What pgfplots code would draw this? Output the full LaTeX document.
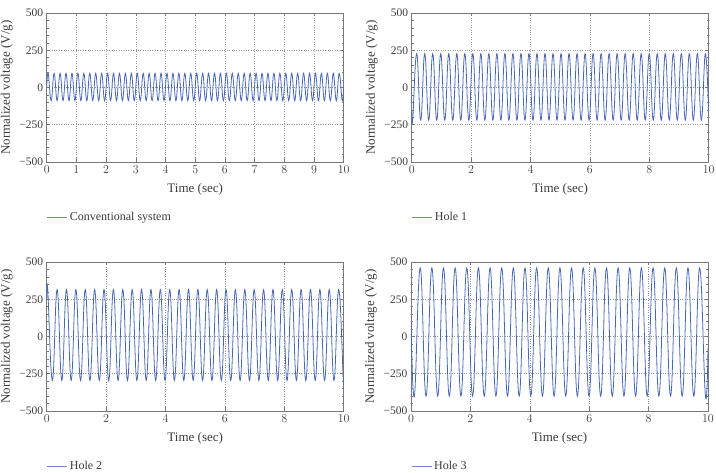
\documentclass[border=0pt]{standalone}
\usepackage{fontspec}
\setmainfont{Liberation Serif}
\usepackage{pgfplots}
\pgfplotsset{compat=1.18}

\definecolor{sig}{RGB}{74,104,178}
\definecolor{legsig}{RGB}{110,135,200}
\definecolor{framec}{RGB}{120,120,120}
\definecolor{txt}{RGB}{60,60,60}
\definecolor{gridc}{RGB}{150,150,150}

\pgfplotsset{
  sigline/.style={sig, line width=0.8pt, smooth, tension=0.75, no markers},
  panel/.style={
    scale only axis, width=297pt, height=149pt,
    xmin=0, xmax=10, ymin=-500, ymax=500,
    ytick={-500,-250,0,250,500},
    yticklabels={−500,−250,0,250,500},
    minor y tick num=4,
    tick align=inside, tick pos=both,
    axis line style={framec, line width=0.6pt},
    every tick/.style={framec, line width=0.5pt},
    major tick length=3.5pt, minor tick length=2pt,
    grid=major,
    major grid style={gridc, dotted, line width=0.6pt},
    tick label style={font=\fontsize{11.5}{13}\selectfont, color=txt},
    label style={font=\fontsize{13}{15}\selectfont, color=txt},
    xlabel={Time (sec)},
    ylabel={Normalized voltage (V/g)},
    xlabel style={yshift=-3pt},
    legend style={at={(rel axis cs:0,-0.37)}, anchor=west, draw=none,
      fill=none, inner sep=0pt, font=\fontsize{12}{14}\selectfont},
    legend image code/.code={\draw[legsig, line width=1pt] (0pt,0pt) -- (20pt,0pt);},
  }
}

\begin{document}
\begin{tikzpicture}
\path[use as bounding box] (0pt,0pt) rectangle (716pt,472pt);

% Conventional system
\begin{axis}[panel, at={(46.7pt,310pt)}, anchor=south west, xtick={0,1,...,10}]
\addplot[sigline] coordinates {
(0,0)
(0.05,95)(0.15,-88)(0.25,95)(0.35,-88)(0.45,95)(0.55,-88)(0.65,95)(0.75,-88)(0.85,95)(0.95,-88)
(1.05,95)(1.15,-88)(1.25,95)(1.35,-88)(1.45,95)(1.55,-88)(1.65,95)(1.75,-88)(1.85,95)(1.95,-88)
(2.05,95)(2.15,-88)(2.25,95)(2.35,-88)(2.45,95)(2.55,-88)(2.65,95)(2.75,-88)(2.85,95)(2.95,-88)
(3.05,95)(3.15,-88)(3.25,95)(3.35,-88)(3.45,95)(3.55,-88)(3.65,95)(3.75,-88)(3.85,95)(3.95,-88)
(4.05,95)(4.15,-88)(4.25,95)(4.35,-88)(4.45,95)(4.55,-88)(4.65,95)(4.75,-88)(4.85,95)(4.95,-88)
(5.05,95)(5.15,-88)(5.25,95)(5.35,-88)(5.45,95)(5.55,-88)(5.65,95)(5.75,-88)(5.85,95)(5.95,-88)
(6.05,95)(6.15,-88)(6.25,95)(6.35,-88)(6.45,95)(6.55,-88)(6.65,95)(6.75,-88)(6.85,95)(6.95,-88)
(7.05,95)(7.15,-88)(7.25,95)(7.35,-88)(7.45,95)(7.55,-88)(7.65,95)(7.75,-88)(7.85,95)(7.95,-88)
(8.05,95)(8.15,-88)(8.25,95)(8.35,-88)(8.45,95)(8.55,-88)(8.65,95)(8.75,-88)(8.85,95)(8.95,-88)
(9.05,95)(9.15,-88)(9.25,95)(9.35,-88)(9.45,95)(9.55,-88)(9.65,95)(9.75,-88)(9.85,95)(9.95,-88)
(10,0)
};
\addlegendentry{\textcolor{txt}{Conventional system}}
\end{axis}

% Hole 1
\begin{axis}[panel, at={(411.7pt,310pt)}, anchor=south west, xtick={0,2,...,10}]
\addplot[sigline] coordinates {
(0,-156)
(0.033,-219)(0.168,227)(0.303,-219)(0.438,227)(0.573,-219)(0.708,227)(0.843,-219)(0.978,227)
(1.113,-219)(1.248,227)(1.383,-219)(1.518,227)(1.653,-219)(1.788,227)(1.923,-219)
(2.058,227)(2.193,-219)(2.328,227)(2.463,-219)(2.598,227)(2.733,-219)(2.868,227)
(3.003,-219)(3.138,227)(3.273,-219)(3.408,227)(3.543,-219)(3.678,227)(3.813,-219)(3.948,227)
(4.083,-219)(4.218,227)(4.353,-219)(4.488,227)(4.623,-219)(4.758,227)(4.893,-219)
(5.028,227)(5.163,-219)(5.298,227)(5.433,-219)(5.568,227)(5.703,-219)(5.838,227)(5.973,-219)
(6.108,227)(6.243,-219)(6.378,227)(6.513,-219)(6.648,227)(6.783,-219)(6.918,227)
(7.053,-219)(7.188,227)(7.323,-219)(7.458,227)(7.593,-219)(7.728,227)(7.863,-219)(7.998,227)
(8.133,-219)(8.268,227)(8.403,-219)(8.538,227)(8.673,-219)(8.808,227)(8.943,-219)
(9.078,227)(9.213,-219)(9.348,227)(9.483,-219)(9.618,227)(9.753,-219)(9.888,227)
(10,-188)
};
\addlegendentry{\textcolor{txt}{Hole 1}}
\end{axis}

% Hole 2
\begin{axis}[panel, at={(46.7pt,61pt)}, anchor=south west, xtick={0,2,...,10}]
\addplot[sigline] coordinates {
(0,248)
(0.034,315)(0.192,-295)(0.350,315)(0.508,-295)(0.666,315)(0.824,-295)(0.982,315)
(1.140,-295)(1.298,315)(1.456,-295)(1.614,315)(1.772,-295)(1.930,315)
(2.088,-295)(2.246,315)(2.404,-295)(2.562,315)(2.720,-295)(2.878,315)
(3.036,-295)(3.194,315)(3.352,-295)(3.510,315)(3.668,-295)(3.826,315)(3.984,-295)
(4.142,315)(4.300,-295)(4.458,315)(4.616,-295)(4.774,315)(4.932,-295)
(5.090,315)(5.248,-295)(5.406,315)(5.564,-295)(5.722,315)(5.880,-295)
(6.038,315)(6.196,-295)(6.354,315)(6.512,-295)(6.670,315)(6.828,-295)(6.986,315)
(7.144,-295)(7.302,315)(7.460,-295)(7.618,315)(7.776,-295)(7.934,315)
(8.092,-295)(8.250,315)(8.408,-295)(8.566,315)(8.724,-295)(8.882,315)
(9.040,-295)(9.198,315)(9.356,-295)(9.514,315)(9.672,-295)(9.830,315)(9.988,-295)
(10,-292)
};
\addlegendentry{\textcolor{txt}{Hole 2}}
\end{axis}

% Hole 3
\begin{axis}[panel, at={(411pt,61pt)}, anchor=south west, xtick={0,2,...,10}]
\addplot[sigline] coordinates {
(0,130)
(0.114,-400)(0.310,460)(0.506,-400)(0.702,460)(0.898,-400)
(1.094,460)(1.290,-400)(1.486,460)(1.682,-400)(1.878,460)
(2.074,-400)(2.270,460)(2.466,-400)(2.662,460)(2.858,-400)
(3.054,460)(3.250,-400)(3.446,460)(3.642,-400)(3.838,460)
(4.034,-400)(4.230,460)(4.426,-400)(4.622,460)(4.818,-400)
(5.014,460)(5.210,-400)(5.406,460)(5.602,-400)(5.798,460)
(5.994,-400)(6.190,460)(6.386,-400)(6.582,460)(6.778,-400)
(6.974,460)(7.170,-400)(7.366,460)(7.562,-400)(7.758,460)
(7.954,-400)(8.150,460)(8.346,-400)(8.542,460)(8.738,-400)
(8.934,460)(9.130,-400)(9.326,460)(9.522,-400)(9.718,460)
(9.914,-400)
(10,-75)
};
\addlegendentry{\textcolor{txt}{Hole 3}}
\end{axis}
\end{tikzpicture}
\end{document}
